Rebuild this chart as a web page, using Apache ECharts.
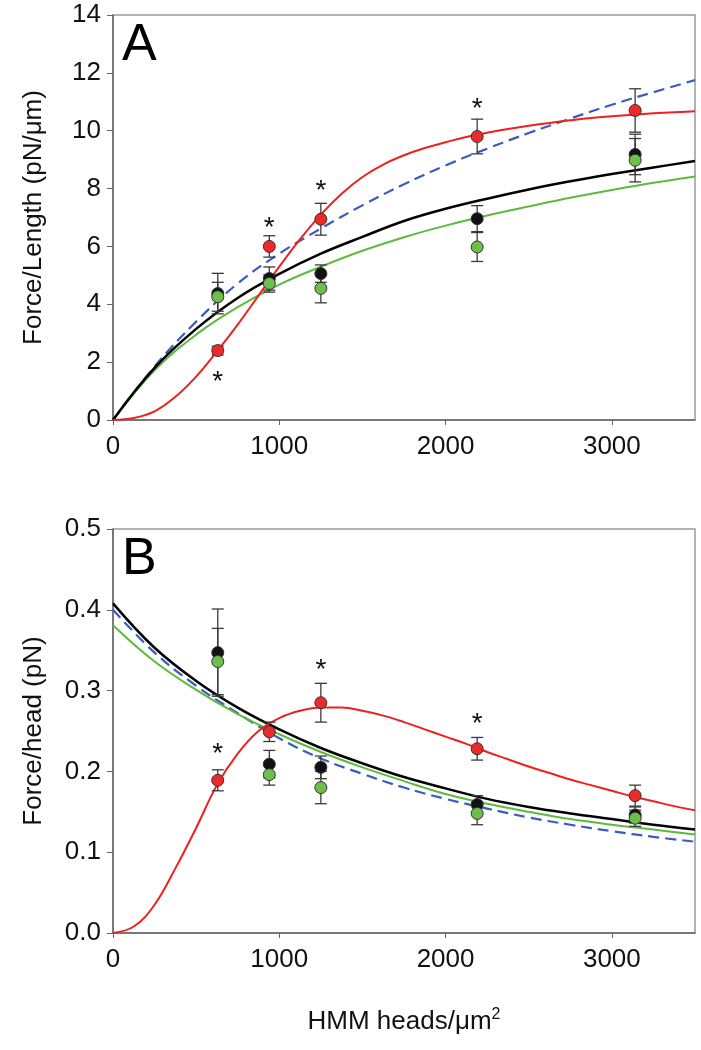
<!DOCTYPE html>
<html><head><meta charset="utf-8">
<script src="https://cdn.jsdelivr.net/npm/echarts@6/dist/echarts.min.js"></script>
<style>html,body{margin:0;padding:0;background:#fff}#c{width:701px;height:1050px}</style>
</head><body><div id="c"></div><script>
// ---- data ----
const xTicks = [0, 1000, 2000, 3000];
const yTicksA = [0, 2, 4, 6, 8, 10, 12, 14];
const yTicksB = [0, 0.1, 0.2, 0.3, 0.4, 0.5];
const xPts = [630, 940, 1250, 2190, 3140];

const redA = [2.4, 6.0, 6.94, 9.8, 10.7];
const redAErr = [0.15, 0.37, 0.55, 0.6, 0.75];
const blackA = [4.37, 4.89, 5.06, 6.96, 9.18];
const blackAErr = [0.7, 0.4, 0.3, 0.45, 0.7];
const greenA = [4.26, 4.72, 4.55, 5.98, 8.98];
const greenAErr = [0.5, 0.3, 0.5, 0.5, 0.75];

const redB = [0.189, 0.249, 0.285, 0.228, 0.170];
const redBErr = [0.013, 0.012, 0.024, 0.014, 0.013];
const blackB = [0.347, 0.209, 0.205, 0.159, 0.146];
const blackBErr = [0.054, 0.017, 0.014, 0.011, 0.010];
const greenB = [0.336, 0.196, 0.180, 0.148, 0.142];
const greenBErr = [0.041, 0.013, 0.020, 0.014, 0.010];

const curveX = [0,250,500,750,1000,1250,1500,1750,2000,2250,2500,2750,3000,3250,3500];
const blackFitA = [0,1.8,3.15,4.22,5.05,5.75,6.33,6.88,7.3,7.65,7.97,8.25,8.5,8.73,8.95];
const greenFitA = [0,1.72,2.95,3.9,4.68,5.3,5.85,6.32,6.72,7.07,7.38,7.68,7.95,8.2,8.42];
const blueFitA  = [0,1.85,3.4,4.72,5.75,6.62,7.42,8.15,8.8,9.38,9.92,10.42,10.9,11.33,11.75];

const blackFitB = [0.408,0.353,0.312,0.279,0.252,0.229,0.210,0.193,0.179,0.166,0.156,0.148,0.141,0.134,0.128];
const greenFitB = [0.381,0.336,0.301,0.271,0.246,0.224,0.205,0.188,0.172,0.160,0.150,0.141,0.134,0.128,0.122];
const blueFitB  = [0.400,0.347,0.306,0.272,0.241,0.216,0.197,0.180,0.166,0.154,0.143,0.134,0.126,0.119,0.113];

// red (sigmoidal) fits, read at a finer step
const redX = [0,125,250,375,500,625,750,875,1000,1125,1250,1375,1500,1625,1750,1875,2000,2125,2250,2375,2500,2625,2750,2875,3000,3125,3250,3375,3500];
const redFitA = [0,0.07,0.3,0.8,1.5,2.37,3.3,4.3,5.3,6.25,7.1,7.82,8.4,8.83,9.15,9.4,9.6,9.78,9.93,10.06,10.17,10.27,10.36,10.44,10.5,10.55,10.6,10.64,10.67];
const redFitB = [0,0.008,0.035,0.08,0.13,0.183,0.222,0.25,0.266,0.275,0.279,0.279,0.275,0.269,0.261,0.252,0.243,0.234,0.224,0.215,0.206,0.198,0.19,0.183,0.176,0.169,0.163,0.157,0.152];

const starAX = [630, 940, 1250, 2190];
const starAY = [1.5, 6.85, 8.1, 10.95];
const starBX = [630, 1250, 2190];
const starBY = [0.228, 0.333, 0.266];

// ---- styles ----
const RED = '#ee2020', BLACK = '#000000', GREEN = '#5cbb3c', BLUE = '#3a5cc0';
const PT_RED = '#ec2a2a', PT_BLACK = '#111111', PT_GREEN = '#6cc04a';
const FONT = 'Liberation Sans, Arial, sans-serif';

function pairs(xs, ys) { return xs.map((x, i) => [x, ys[i]]); }

function lineSeries(g, xs, ys, color, width, dashed) {
  return {
    type: 'line', xAxisIndex: g, yAxisIndex: g, data: pairs(xs, ys),
    smooth: 0.4, symbol: 'none', silent: true, z: 2,
    lineStyle: { color: color, width: width, type: dashed ? [11, 6] : 'solid' }
  };
}

function errSeries(g, ys, errs) {
  return {
    type: 'custom', xAxisIndex: g, yAxisIndex: g, z: 3, silent: true,
    data: xPts.map((x, i) => [x, ys[i] - errs[i], ys[i] + errs[i]]),
    encode: { x: 0, y: [1, 2] },
    renderItem: function (params, api) {
      const lo = api.coord([api.value(0), api.value(1)]);
      const hi = api.coord([api.value(0), api.value(2)]);
      const w = 6, st = { stroke: '#3a3a3a', lineWidth: 1.3 };
      return { type: 'group', children: [
        { type: 'line', shape: { x1: lo[0], y1: lo[1], x2: hi[0], y2: hi[1] }, style: st },
        { type: 'line', shape: { x1: lo[0] - w, y1: lo[1], x2: lo[0] + w, y2: lo[1] }, style: st },
        { type: 'line', shape: { x1: hi[0] - w, y1: hi[1], x2: hi[0] + w, y2: hi[1] }, style: st }
      ]};
    }
  };
}

function ptSeries(g, ys, color) {
  return {
    type: 'scatter', xAxisIndex: g, yAxisIndex: g, data: pairs(xPts, ys), z: 4,
    symbol: 'circle', symbolSize: 12, silent: true,
    itemStyle: { color: color, borderColor: '#333', borderWidth: 1, opacity: 1 }
  };
}

function starSeries(g, xs, ys) {
  return {
    type: 'custom', xAxisIndex: g, yAxisIndex: g, z: 5, silent: true,
    data: pairs(xs, ys), encode: { x: 0, y: 1 },
    renderItem: function (params, api) {
      const p = api.coord([api.value(0), api.value(1)]);
      return { type: 'text', x: p[0], y: p[1] + 6,
        style: { text: '*', fill: '#111', fontSize: 28, fontFamily: FONT,
                 align: 'center', verticalAlign: 'middle' } };
    }
  };
}

function xAxis(g, withName) {
  const ax = {
    type: 'value', gridIndex: g, min: 0, max: 3500, interval: 1000,
    axisLine: { show: true, onZero: false, lineStyle: { color: '#666', width: 1.5 } },
    axisTick: { show: true, inside: false, length: 5, customValues: xTicks, lineStyle: { color: '#666' } },
    axisLabel: { customValues: xTicks, color: '#111', fontSize: 26, fontFamily: FONT, margin: 14,
                 formatter: v => String(v) },
    splitLine: { show: false }
  };
  if (withName) {
    ax.name = '{n|HMM heads/μm}{s|2}';
    ax.nameLocation = 'middle';
    ax.nameGap = 74;
    ax.nameTextStyle = { rich: {
      n: { fontSize: 26, fontFamily: FONT, color: '#111' },
      s: { fontSize: 16, fontFamily: FONT, color: '#111', verticalAlign: 'top', padding: [0, 0, 14, 0] }
    } };
  }
  return ax;
}

function yAxis(g, max, interval, ticks, name, fmt) {
  return {
    type: 'value', gridIndex: g, min: 0, max: max, interval: interval,
    name: name, nameLocation: 'middle', nameGap: 66,
    nameTextStyle: { fontSize: 26, fontFamily: FONT, color: '#111' },
    axisLine: { show: true, onZero: false, lineStyle: { color: '#666', width: 1.5 } },
    axisTick: { show: true, inside: false, length: 6, customValues: ticks, lineStyle: { color: '#666' } },
    axisLabel: { customValues: ticks, color: '#111', fontSize: 26, fontFamily: FONT, margin: 12, formatter: fmt },
    splitLine: { show: false }
  };
}

const chart = echarts.init(document.getElementById('c'), null, { renderer: 'canvas' });
chart.setOption({
  animation: false,
  backgroundColor: '#fff',
  grid: [
    { left: 113, top: 15, width: 582, height: 405, show: true, borderColor: '#9a9a9a', borderWidth: 1.5, backgroundColor: '#fff' },
    { left: 113, top: 529, width: 582, height: 404, show: true, borderColor: '#9a9a9a', borderWidth: 1.5, backgroundColor: '#fff' }
  ],
  xAxis: [xAxis(0, false), xAxis(1, true)],
  yAxis: [
    yAxis(0, 14, 2, yTicksA, 'Force/Length (pN/μm)', v => String(v)),
    yAxis(1, 0.5, 0.1, yTicksB, 'Force/head (pN)', v => v.toFixed(1))
  ],
  graphic: [
    { type: 'text', left: 122, top: 20, style: { text: 'A', fontSize: 52, fontFamily: FONT, fill: '#000' } },
    { type: 'text', left: 122, top: 534, style: { text: 'B', fontSize: 52, fontFamily: FONT, fill: '#000' } }
  ],
  series: [
    lineSeries(0, curveX, blueFitA, BLUE, 2.2, true),
    lineSeries(0, curveX, greenFitA, GREEN, 2, false),
    lineSeries(0, curveX, blackFitA, BLACK, 2.5, false),
    lineSeries(0, redX, redFitA, RED, 2, false),
    errSeries(0, blackA, blackAErr),
    errSeries(0, greenA, greenAErr),
    errSeries(0, redA, redAErr),
    ptSeries(0, blackA, PT_BLACK),
    ptSeries(0, greenA, PT_GREEN),
    ptSeries(0, redA, PT_RED),
    starSeries(0, starAX, starAY),

    lineSeries(1, curveX, blueFitB, BLUE, 2.2, true),
    lineSeries(1, curveX, greenFitB, GREEN, 2, false),
    lineSeries(1, curveX, blackFitB, BLACK, 2.5, false),
    lineSeries(1, redX, redFitB, RED, 2, false),
    errSeries(1, blackB, blackBErr),
    errSeries(1, greenB, greenBErr),
    errSeries(1, redB, redBErr),
    ptSeries(1, blackB, PT_BLACK),
    ptSeries(1, greenB, PT_GREEN),
    ptSeries(1, redB, PT_RED),
    starSeries(1, starBX, starBY)
  ]
});
</script></body></html>
